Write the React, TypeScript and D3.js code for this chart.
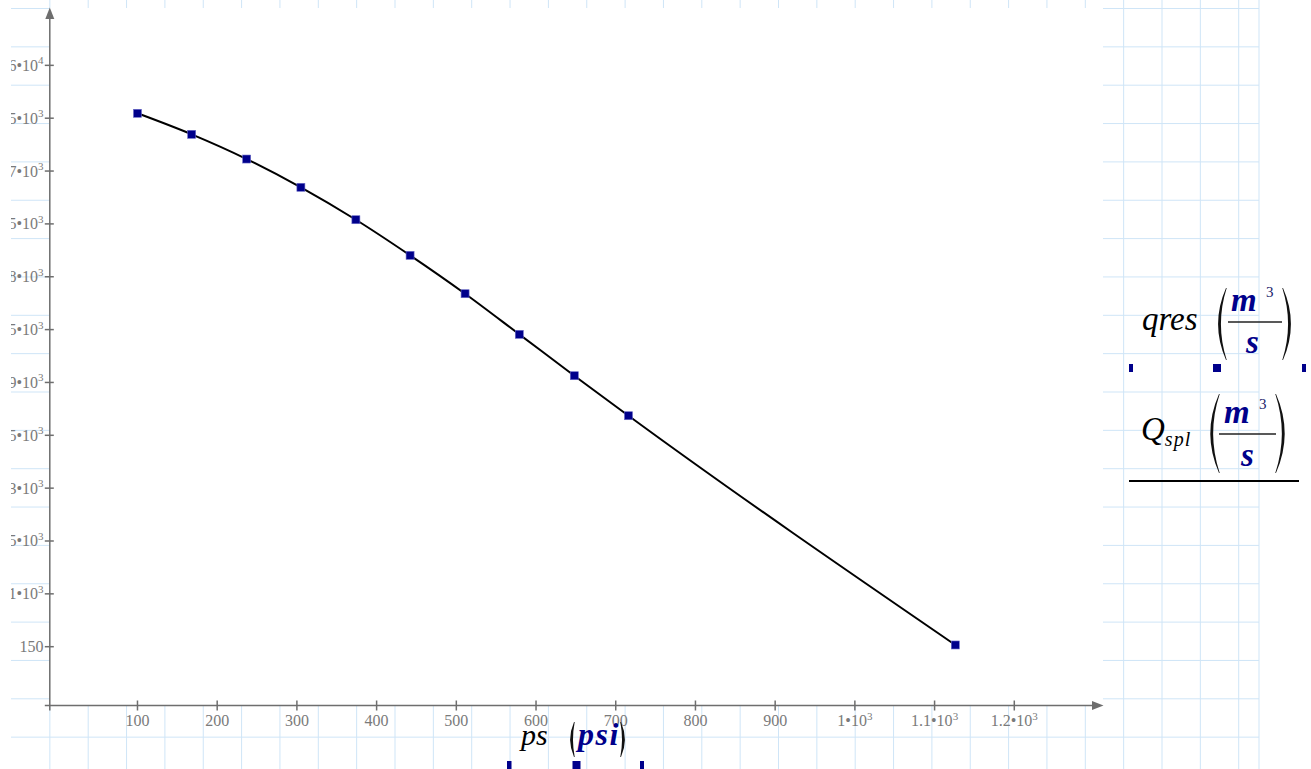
import React from "react";
import * as d3 from "d3";

// ---- data ----
const psValues = [100, 168, 237, 305, 374, 442, 511, 579, 648, 716, 1126];
const qresValues = [9738, 9360, 8916, 8408, 7825, 7185, 6495, 5765, 5021, 4302, 181];

const xTickValues = [100, 200, 300, 400, 500, 600, 700, 800, 900, 1000, 1100, 1200];
const xTickLabels = ["100", "200", "300", "400", "500", "600", "700", "800", "900", "1•10^3", "1.1•10^3", "1.2•10^3"];
const yTickValues = [150, 1100, 2050, 3000, 3950, 4900, 5850, 6800, 7750, 8700, 9650, 10600];
const yTickLabels = ["150", "1.1•10^3", "2.05•10^3", "3•10^3", "3.95•10^3", "4.9•10^3", "5.85•10^3", "6.8•10^3", "7.75•10^3", "8.7•10^3", "9.65•10^3", "1.06•10^4"];

const W = 1311;
const H = 769;
const SERIF = "'Liberation Serif', 'Times New Roman', serif";
const NAVY = "#00008b";
const AXIS = "#6e6e6e";
const TICKTXT = "#7a7a7a";
const GRID = "#cfe5f7";

const xScale = d3.scaleLinear().domain([-10, 1300]).range([49.8, 1094.0]);
const yScale = d3.scaleLinear().domain([-907, 11550]).range([705.5, 12.5]);

function TickText({ label, x, y, anchor }: { label: string; x: number; y: number; anchor: string }) {
  const [mant, exp] = label.split("^");
  return (
    <text x={x} y={y} textAnchor={anchor} fontFamily={SERIF} fontSize={16} fill={TICKTXT}>
      {mant}
      {exp !== undefined && (
        <tspan dy={-6.5} fontSize={11}>
          {exp}
        </tspan>
      )}
    </text>
  );
}

function Paren({ x, top, bot, dir }: { x: number; top: number; bot: number; dir: number }) {
  // dir = -1 : "(" bulging left ; dir = 1 : ")" bulging right
  const mid = (top + bot) / 2;
  const h = bot - top;
  const b = h * 0.22;
  const c1 = x + dir * b;
  const c2 = x + dir * (b - 5);
  const d = `M ${x} ${top} Q ${c1} ${mid} ${x} ${bot} L ${x - dir * 0.7} ${bot} Q ${c2} ${mid} ${x - dir * 0.7} ${top} Z`;
  return <path d={d} fill="#111" />;
}

export default function App() {
  const gridXs: number[] = [];
  for (let k = 1; k <= 32; k++) gridXs.push(11.5 + 38.35 * k);
  gridXs.push(1259);
  const gridYs: number[] = [];
  for (let k = 0; k <= 19; k++) gridYs.push(8.5 + 38.35 * k);

  const pts: [number, number][] = psValues.map((v, i) => [xScale(v), yScale(qresValues[i])]);
  const line = d3.line().curve(d3.curveMonotoneX)(pts) || "";

  const axY = yScale(-907);
  const axX = xScale(-10);

  return (
    <div style={{ position: "absolute", left: 0, top: 0 }}>
      <svg width={W} height={H} style={{ display: "block", background: "#fff" }}>
        {/* worksheet grid */}
        <g stroke={GRID} strokeWidth={1}>
          {gridXs.map((x, i) => (
            <line key={"gx" + i} x1={x} x2={x} y1={0} y2={H} />
          ))}
          {gridYs.map((y, i) => (
            <line key={"gy" + i} x1={11} x2={1259} y1={y} y2={y} />
          ))}
        </g>
        {/* plot area background */}
        <rect x={axX} y={8} width={1103 - axX} height={axY - 8} fill="#fff" />

        {/* spline line */}
        <path d={line} fill="none" stroke="#000" strokeWidth={2} />
        {/* markers */}
        {pts.map(([x, y], i) => (
          <rect key={"m" + i} x={x - 4} y={y - 4} width={8} height={8} fill={NAVY} stroke="#6a6ac8" strokeWidth={0.6} />
        ))}

        {/* axes */}
        <g stroke={AXIS} strokeWidth={1.5}>
          <line x1={axX - 5} x2={1094} y1={axY} y2={axY} />
          <line x1={axX} x2={axX} y1={axY + 5} y2={18} />
          {xTickValues.map((v, i) => (
            <line key={"xt" + i} x1={xScale(v)} x2={xScale(v)} y1={axY - 5} y2={axY + 5} />
          ))}
          {yTickValues.map((v, i) => (
            <line key={"yt" + i} x1={axX - 5} x2={axX + 4} y1={yScale(v)} y2={yScale(v)} />
          ))}
        </g>
        <path d={`M ${axX - 4.5} 19 L ${axX} 7.5 L ${axX + 4.5} 19 Z`} fill={AXIS} />
        <path d={`M 1092 ${axY - 4.5} L 1103.5 ${axY} L 1092 ${axY + 4.5} Z`} fill={AXIS} />

        {/* tick labels */}
        {xTickValues.map((v, i) => (
          <TickText key={"xl" + i} label={xTickLabels[i]} x={xScale(v)} y={726} anchor="middle" />
        ))}
        {yTickValues.map((v, i) => (
          <TickText key={"yl" + i} label={yTickLabels[i]} x={43.5} y={yScale(v) + 5.5} anchor="end" />
        ))}

        {/* x axis label */}
        <text x={521} y={745} fontFamily={SERIF} fontStyle="italic" fontSize={30} fill="#000">ps</text>
        <Paren x={574} top={722} bot={757} dir={-1} />
        <text x={578} y={745} fontFamily={SERIF} fontStyle="italic" fontWeight="bold" fontSize={32} letterSpacing={1.5} fill={NAVY}>psi</text>
        <Paren x={621} top={722} bot={757} dir={1} />
        <rect x={507} y={761} width={4.5} height={8} fill={NAVY} />
        <rect x={572.5} y={761} width={8} height={8} fill={NAVY} />
        <rect x={640} y={761} width={4} height={8} fill={NAVY} />

        {/* legend: qres */}
        <text x={1142} y={330} fontFamily={SERIF} fontStyle="italic" fontSize={33} fill="#000">qres</text>
        <Paren x={1226} top={288} bot={360} dir={-1} />
        <Paren x={1283} top={288} bot={360} dir={1} />
        <text x={1231} y={311} fontFamily={SERIF} fontStyle="italic" fontWeight="bold" fontSize={33} fill={NAVY}>m</text>
        <text x={1266} y={297} fontFamily={SERIF} fontSize={15} fill="#1a1a6a">3</text>
        <line x1={1228} x2={1282} y1={322} y2={322} stroke="#222" strokeWidth={1.5} />
        <text x={1246} y={353} fontFamily={SERIF} fontStyle="italic" fontWeight="bold" fontSize={33} fill={NAVY}>s</text>
        <rect x={1129} y={364} width={4} height={8} fill={NAVY} />
        <rect x={1213} y={364} width={8} height={8} fill={NAVY} />
        <rect x={1302} y={364} width={4} height={8} fill={NAVY} />

        {/* legend: Q_spl */}
        <text x={1141} y={440} fontFamily={SERIF} fontStyle="italic" fontSize={33} fill="#000">
          Q<tspan dy={6} fontSize={20} letterSpacing={1}>spl</tspan>
        </text>
        <Paren x={1219} top={394} bot={473} dir={-1} />
        <Paren x={1276} top={394} bot={473} dir={1} />
        <text x={1224} y={423} fontFamily={SERIF} fontStyle="italic" fontWeight="bold" fontSize={33} fill={NAVY}>m</text>
        <text x={1259} y={409} fontFamily={SERIF} fontSize={15} fill="#1a1a6a">3</text>
        <line x1={1219} x2={1276} y1={434} y2={434} stroke="#222" strokeWidth={1.5} />
        <text x={1241} y={466} fontFamily={SERIF} fontStyle="italic" fontWeight="bold" fontSize={33} fill={NAVY}>s</text>
        <line x1={1129} x2={1299} y1={481} y2={481} stroke="#000" strokeWidth={2} />

        {/* left clipping margin */}
        <rect x={0} y={0} width={11} height={H} fill="#fff" />
      </svg>
    </div>
  );
}
